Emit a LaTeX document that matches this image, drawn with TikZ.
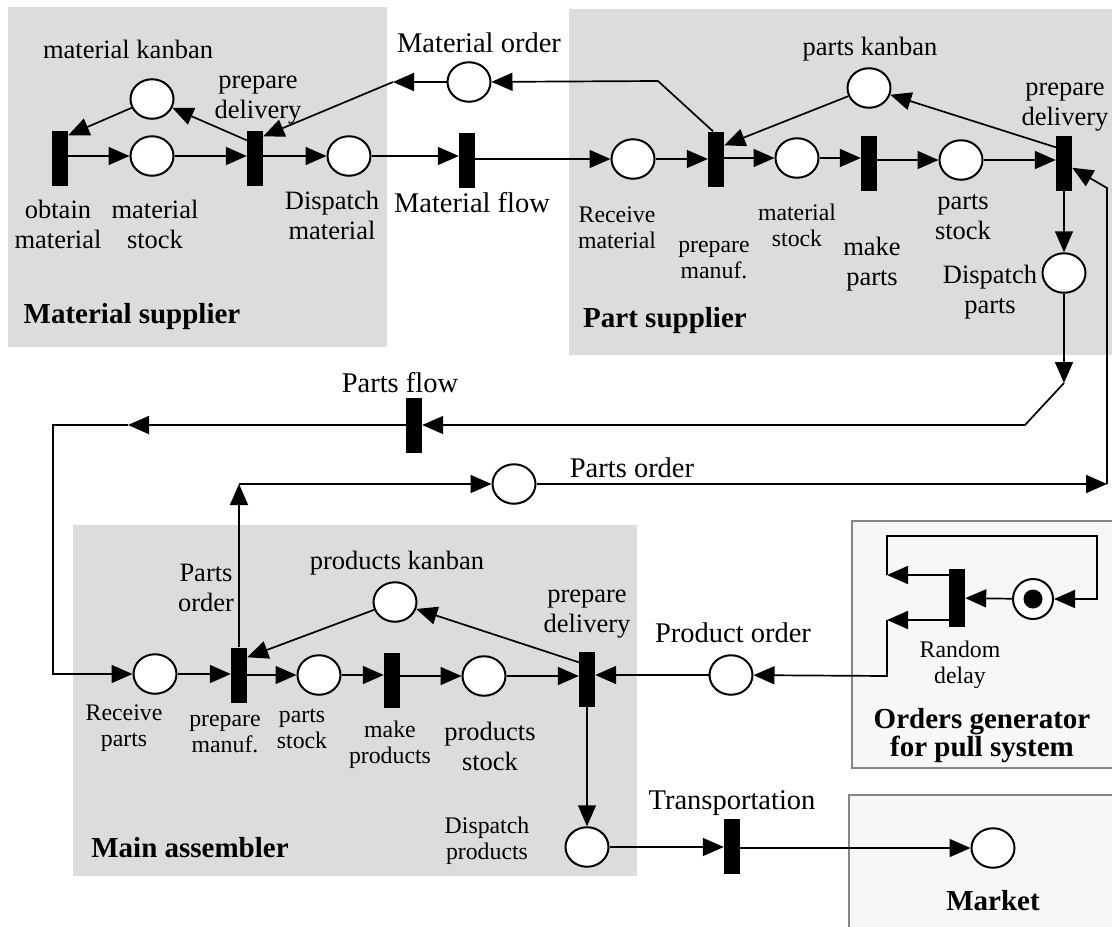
\documentclass[tikz,border=0pt]{standalone}
\usepackage{fontspec}
\setmainfont{Liberation Serif}
\usetikzlibrary{arrows.meta,shapes.geometric}
\definecolor{boxgray}{HTML}{DCDCDC}
\definecolor{genfill}{HTML}{F7F7F7}
\definecolor{genedge}{HTML}{858585}
\newcommand\twol[3]{{\baselineskip=#3pt\relax\begin{tabular}[t]{@{}c@{}}#1\\#2\end{tabular}}}
\begin{document}
\begin{tikzpicture}[x=1pt,y=-1pt,
  place/.style={ellipse,draw,line width=2pt,fill=white,minimum width=43pt,minimum height=39.5pt,inner sep=0pt},
  trans/.style={rectangle,fill=black,minimum width=16pt,minimum height=55pt,inner sep=0pt},
  arr/.style={line width=1.7pt,-{Triangle[length=21pt,width=18pt]}},
  lbl/.style={inner sep=0pt,anchor=base},
  big/.style={lbl,font=\fontsize{28.5}{31}\selectfont},
  med/.style={lbl,font=\fontsize{26.5}{30}\selectfont},
  sml/.style={lbl,font=\fontsize{23.8}{26.5}\selectfont},
  ttl/.style={lbl,font=\fontsize{29}{28}\selectfont\bfseries},
  genbox/.style={draw=genedge,fill=genfill,line width=2pt},
]
\useasboundingbox (0,0) rectangle (1112,927);
% boxes
\fill[boxgray] (8,7) rectangle (387,347);
\fill[boxgray] (569,9) rectangle (1112,355);
\fill[boxgray] (73,525) rectangle (637,876);
\draw[genbox] (852,521) rectangle (1120,768);
\draw[genbox] (849,795) rectangle (1120,935);

% material supplier
\node[trans] (ob) at (60,158) {};
\node[place] (mk) at (152,99) {};
\node[place] (ms) at (152,156) {};
\node[trans] (pd1) at (255,158) {};
\node[place] (dm) at (349,156) {};
\node[place] (mo) at (469,82) {};
\node[trans] (mf) at (467,160) {};
% part supplier
\node[place] (rm) at (633,159) {};
\node[trans] (pm) at (716,159) {};
\node[place] (msp) at (797,158) {};
\node[trans] (mpt) at (869,163) {};
\node[place] (ps) at (961,160) {};
\node[trans] (pd2) at (1064,163) {};
\node[place] (pk) at (869,88) {};
\node[place] (dp) at (1064,273) {};
\node[trans] (pf) at (414,425) {};
\node[place] (po) at (514,484) {};
% main assembler
\node[place] (rp) at (155,674) {};
\node[trans] (pm3) at (239,675) {};
\node[place] (pst) at (319,675) {};
\node[trans] (mkp) at (392,680) {};
\node[place] (pds) at (484,676) {};
\node[trans] (pd3) at (587,679) {};
\node[place] (pk3) at (395,602) {};
\node[place] (por) at (731,675) {};
\node[place] (dpr) at (587,847) {};
\node[trans] (tr) at (732,846) {};
\node[place] (mkt) at (993,848) {};
% orders generator
\node[trans,minimum height=58pt] (rd) at (957,598) {};
\node[place,minimum width=40pt,minimum height=40pt] (tp) at (1033,599) {};
\fill (tp.center) circle (9.5pt);

% coordinates
\coordinate (c1) at (393,82);
\coordinate (c2) at (658,81);
\coordinate (c3) at (1064,383);
\coordinate (c4) at (1025,425);
\coordinate (c5) at (128,425);
\coordinate (c6) at (53,425);
\coordinate (c7) at (53,674);
\coordinate (c8) at (239,484);
\coordinate (c9) at (1107,484);
\coordinate (c10) at (1107,188);
\coordinate (g1) at (887,575);
\coordinate (g2) at (887,620);
\coordinate (g3) at (887,536);
\coordinate (g4) at (1097,536);
\coordinate (g5) at (1097,599);
\coordinate (g6) at (887,676);

% connectors: material supplier
\draw[arr] (mk) -- ([yshift=-5pt]ob.north east);
\draw[arr] (ob.east |- ms) -- (ms);
\draw[arr] (ms) -- (pd1.west |- ms);
\draw[arr] ([yshift=-10pt]pd1.north west) -- (mk);
\draw[arr] (pd1.east |- dm) -- (dm);
\draw[arr] (dm) -- (mf.west |- dm);
\draw[arr] (mo) -- (c1);
\draw[arr] (c1) -- ([yshift=-6pt]pd1.north east);
% part supplier
\draw[arr] (mf.east |- rm) -- (rm);
\draw[arr] (rm) -- (pm.west |- rm);
\draw[arr] (pm.east |- msp) -- (msp);
\draw[arr] (msp) -- (mpt.west |- msp);
\draw[arr] (mpt.east |- ps) -- (ps);
\draw[arr] (ps) -- (pd2.west |- ps);
\draw[arr] (pd2) -- (dp);
\draw[arr] ([yshift=-12pt]pd2.north west) -- (pk);
\draw[arr] (pk) -- ([yshift=-14pt]pm.north east);
\draw[arr] ([xshift=-3pt]pm.north) -- (c2) -- (mo);
% parts flow
\draw[arr] (dp) -- (c3);
\draw[arr] (c3) -- (c4) -- (pf);
\draw[arr] (pf) -- (c5);
\draw[arr] (c5) -- (c6) -- (c7) -- (rp);
% parts order
\draw[arr] (pm3) -- (c8);
\draw[arr] (c8) -- (po);
\draw[arr] (po) -- (c9);
\draw[arr] (c9) -- (c10) -- (pd2);
% main assembler
\draw[arr] (rp) -- (pm3.west |- rp);
\draw[arr] (pm3.east |- pst) -- (pst);
\draw[arr] (pst) -- (mkp.west |- pst);
\draw[arr] (mkp.east |- pds) -- (pds);
\draw[arr] (pds) -- (pd3.west |- pds);
\draw[arr] (pk3) -- ([yshift=-10pt]pm3.north east);
\draw[arr] ([yshift=-11pt]pd3.north west) -- (pk3);
\draw[arr] (por) -- (pd3.east |- por);
\draw[arr] (pd3) -- (dpr);
\draw[arr] (dpr) -- (tr.west |- dpr);
\draw[arr] (tr.east |- mkt) -- (mkt);
% orders generator
\draw[arr] (tp) -- (rd);
\draw[arr] (rd.west |- g1) -- (g1);
\draw[arr] (g1) -- (g3) -- (g4) -- (g5) -- (tp);
\draw[arr] (rd.west |- g2) -- (g2);
\draw[arr] (g2) -- (g6) -- (por);

% labels
\node[big] (l1) at (479,52) {Material order};
\node[med] (l2) at (128,58) {material kanban};
\node[med] (l3) at (258,88) {\twol{prepare}{delivery}{29}};
\node[med] (l4) at (58,218) {\twol{obtain}{material}{30}};
\node[med] (l5) at (155,218) {\twol{material}{stock}{30}};
\node[med] (l6) at (332,209) {\twol{Dispatch}{material}{31}};
\node[big] (l7) at (472,212) {Material flow};
\node[ttl] (l8) at (132,323) {Material supplier};
\node[sml] (l9) at (617,222) {\twol{Receive}{material}{26}};
\node[sml] (l10) at (714,252) {\twol{prepare}{manuf.}{28}};
\node[sml] (l11) at (797,220) {\twol{material}{stock}{28}};
\node[med] (l12) at (872,255) {\twol{make}{parts}{30}};
\node[med] (l13) at (963,209) {\twol{parts}{stock}{29}};
\node[med] (l14) at (870,55) {parts kanban};
\node[med] (l15) at (1065,95) {\twol{prepare}{delivery}{27}};
\node[med] (l16) at (990,283) {\twol{Dispatch}{parts}{30}};
\node[ttl] (l17) at (665,327) {Part supplier};
\node[big] (l18) at (400,392) {Parts flow};
\node[big] (l19) at (632,477) {Parts order};
\node[med] (l20) at (206,581) {\twol{Parts}{order}{31}};
\node[med] (l21) at (397,569) {products kanban};
\node[med] (l22) at (587,602) {\twol{prepare}{delivery}{31}};
\node[big] (l23) at (733,642) {Product order};
\node[sml] (l24) at (124,720) {\twol{Receive}{parts}{26}};
\node[sml] (l25) at (225,726) {\twol{prepare}{manuf.}{26}};
\node[sml] (l26) at (302,722) {\twol{parts}{stock}{27}};
\node[sml] (l27) at (390,737) {\twol{make}{products}{28}};
\node[med] (l28) at (490,740) {\twol{products}{stock}{30}};
\node[sml] (l29) at (487,833) {\twol{Dispatch}{products}{26}};
\node[ttl] (l30) at (190,857) {Main assembler};
\node[big] (l31) at (732,809) {Transportation};
\node[sml] (l32) at (960,657) {\twol{Random}{delay}{25}};
\node[ttl] (l33) at (982,728) {\twol{Orders generator}{for pull system}{27}};
\node[ttl] (l34) at (993,910) {Market};
\end{tikzpicture}
\end{document}
